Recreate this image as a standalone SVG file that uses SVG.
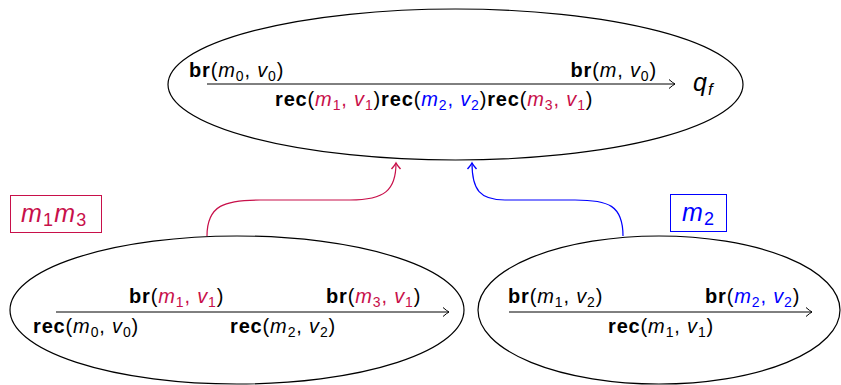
<svg xmlns="http://www.w3.org/2000/svg" width="841" height="385" viewBox="0 0 841 385">
<style>
.ell{fill:none;stroke:#000;stroke-width:1.2}
.tr{fill:none;stroke:#000;stroke-width:1;marker-end:url(#ab)}
.t{font-family:"Liberation Sans",Arial,sans-serif;font-size:20px;fill:#000;letter-spacing:0.85px}
.b{font-weight:bold}
.i{font-style:italic}
.s{font-size:14px}
.r{fill:#c8104a}
.bl{fill:#0000ff}
.big{font-size:25px;letter-spacing:1.2px}
</style>
<defs>
<marker id="ab" viewBox="-8 -6 10 12" markerWidth="10" markerHeight="12" refX="0" refY="0" orient="auto" markerUnits="userSpaceOnUse">
<path d="M-6,-4.5 Q-2,-1 0,0 Q-2,1 -6,4.5" fill="none" stroke="#000" stroke-width="1"/>
</marker>
<marker id="ar" viewBox="-8 -6 10 12" markerWidth="10" markerHeight="12" refX="0" refY="0" orient="auto" markerUnits="userSpaceOnUse">
<path d="M-6,-4.5 Q-2,-1 0,0 Q-2,1 -6,4.5" fill="none" stroke="#c8104a" stroke-width="1.4"/>
</marker>
<marker id="abl" viewBox="-8 -6 10 12" markerWidth="10" markerHeight="12" refX="0" refY="0" orient="auto" markerUnits="userSpaceOnUse">
<path d="M-6,-4.5 Q-2,-1 0,0 Q-2,1 -6,4.5" fill="none" stroke="#0000ff" stroke-width="1.4"/>
</marker>
</defs>

<g id="top">
<ellipse class="ell" cx="455.5" cy="84.5" rx="287.5" ry="75.5"/>
<line class="tr" x1="207" y1="84" x2="675" y2="84"/>
<text class="t" x="189" y="77"><tspan class="b">br</tspan>(<tspan class="i">m</tspan><tspan class="s" dy="4">0</tspan><tspan dy="-4">, </tspan><tspan class="i">v</tspan><tspan class="s" dy="4">0</tspan><tspan dy="-4">)</tspan></text>
<text class="t" x="657" y="77" text-anchor="end"><tspan class="b">br</tspan>(<tspan class="i">m</tspan>, <tspan class="i">v</tspan><tspan class="s" dy="4">0</tspan><tspan dy="-4">)</tspan></text>
<text class="t" x="275" y="106"><tspan class="b">rec</tspan>(<tspan class="i r">m</tspan><tspan class="s r" dy="4">1</tspan><tspan class="r" dy="-4">, </tspan><tspan class="i r">v</tspan><tspan class="s r" dy="4">1</tspan><tspan dy="-4">)</tspan><tspan class="b">rec</tspan>(<tspan class="i bl">m</tspan><tspan class="s bl" dy="4">2</tspan><tspan class="bl" dy="-4">, </tspan><tspan class="i bl">v</tspan><tspan class="s bl" dy="4">2</tspan><tspan dy="-4">)</tspan><tspan class="b">rec</tspan>(<tspan class="i r">m</tspan><tspan class="s r" dy="4">3</tspan><tspan class="r" dy="-4">, </tspan><tspan class="i r">v</tspan><tspan class="s r" dy="4">1</tspan><tspan dy="-4">)</tspan></text>
<text class="t big" x="693" y="91"><tspan class="i">q</tspan><tspan class="i" font-size="17" dy="4">f</tspan></text>
</g>

<g id="left">
<ellipse class="ell" cx="237" cy="310" rx="227" ry="74"/>
<line class="tr" x1="56" y1="312" x2="449" y2="312"/>
<text class="t" x="129" y="303"><tspan class="b">br</tspan>(<tspan class="i r">m</tspan><tspan class="s r" dy="4">1</tspan><tspan class="r" dy="-4">, </tspan><tspan class="i r">v</tspan><tspan class="s r" dy="4">1</tspan><tspan dy="-4">)</tspan></text>
<text class="t" x="326" y="303"><tspan class="b">br</tspan>(<tspan class="i r">m</tspan><tspan class="s r" dy="4">3</tspan><tspan class="r" dy="-4">, </tspan><tspan class="i r">v</tspan><tspan class="s r" dy="4">1</tspan><tspan dy="-4">)</tspan></text>
<text class="t" x="33" y="333"><tspan class="b">rec</tspan>(<tspan class="i">m</tspan><tspan class="s" dy="4">0</tspan><tspan dy="-4">, </tspan><tspan class="i">v</tspan><tspan class="s" dy="4">0</tspan><tspan dy="-4">)</tspan></text>
<text class="t" x="230" y="333"><tspan class="b">rec</tspan>(<tspan class="i">m</tspan><tspan class="s" dy="4">2</tspan><tspan dy="-4">, </tspan><tspan class="i">v</tspan><tspan class="s" dy="4">2</tspan><tspan dy="-4">)</tspan></text>
</g>

<g id="right">
<ellipse class="ell" cx="659" cy="310" rx="181" ry="74"/>
<line class="tr" x1="509" y1="312" x2="812" y2="312"/>
<text class="t" x="508" y="303"><tspan class="b">br</tspan>(<tspan class="i">m</tspan><tspan class="s" dy="4">1</tspan><tspan dy="-4">, </tspan><tspan class="i">v</tspan><tspan class="s" dy="4">2</tspan><tspan dy="-4">)</tspan></text>
<text class="t" x="705" y="303"><tspan class="b">br</tspan>(<tspan class="i bl">m</tspan><tspan class="s bl" dy="4">2</tspan><tspan class="bl" dy="-4">, </tspan><tspan class="i bl">v</tspan><tspan class="s bl" dy="4">2</tspan><tspan dy="-4">)</tspan></text>
<text class="t" x="608" y="333"><tspan class="b">rec</tspan>(<tspan class="i">m</tspan><tspan class="s" dy="4">1</tspan><tspan dy="-4">, </tspan><tspan class="i">v</tspan><tspan class="s" dy="4">1</tspan><tspan dy="-4">)</tspan></text>
</g>

<g id="label-m1m3">
<rect x="10.5" y="195.5" width="91" height="37" fill="none" stroke="#c8104a" stroke-width="1"/>
<text class="t big r" x="21" y="222"><tspan class="i">m</tspan><tspan font-size="18" dy="4">1</tspan><tspan class="i" dy="-4">m</tspan><tspan font-size="18" dy="4">3</tspan></text>
</g>

<g id="label-m2">
<rect x="670.5" y="194.5" width="56" height="37" fill="none" stroke="#0000ff" stroke-width="1"/>
<text class="t big bl" x="682" y="221"><tspan class="i">m</tspan><tspan font-size="18" dy="4">2</tspan></text>
</g>

<g id="connectors">
<path d="M207,236 C207,205 225,200 260,200 L350,200 C385,200 396,190 396,163" fill="none" stroke="#c8104a" stroke-width="1.2" marker-end="url(#ar)"/>
<path d="M623,236 C623,205 608,200 575,200 L505,200 C480,200 472,190 472,163" fill="none" stroke="#0000ff" stroke-width="1.2" marker-end="url(#abl)"/>
</g>
</svg>
